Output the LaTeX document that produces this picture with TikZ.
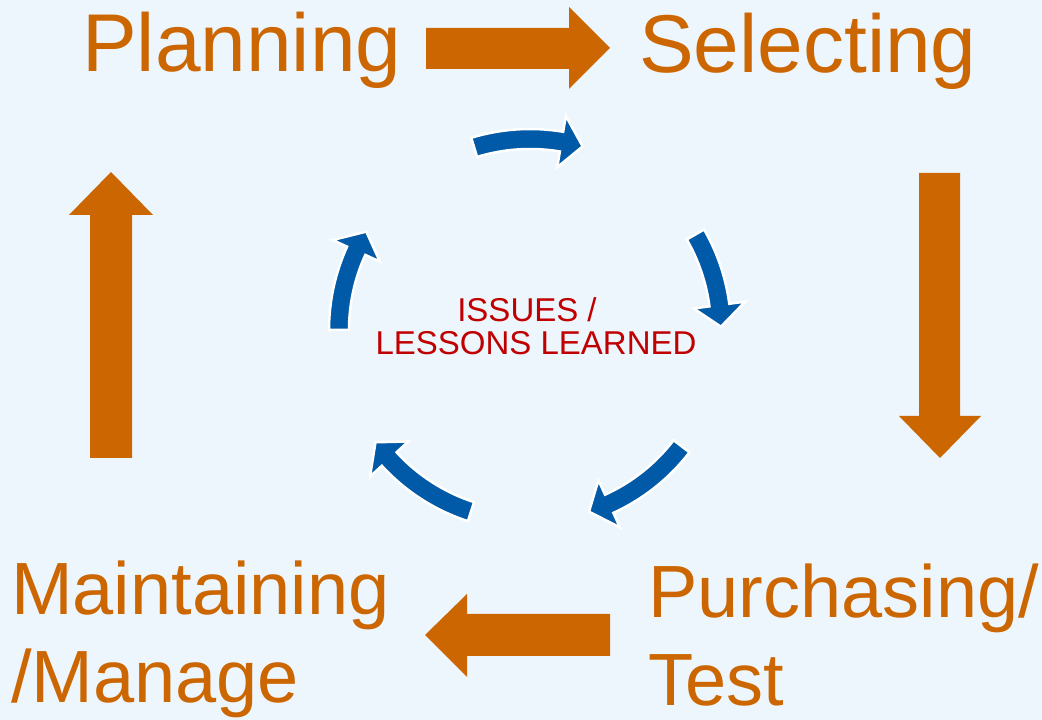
\documentclass[tikz,border=0pt]{standalone}
\usepackage{fontspec}
\setmainfont{Liberation Sans}
\definecolor{stepOrange}{RGB}{204,102,0}
\definecolor{cycleBlue}{RGB}{0,90,167}
\definecolor{issueRed}{RGB}{192,0,0}
\definecolor{bgBlue}{RGB}{237,245,253}
% one curved blue arrow of the inner cycle: #1 tail angle, #2 tip angle
\newcommand{\cycarrow}[2]{%
  \pgfmathsetmacro\hb{#2+6.5}
  \draw[cyclearrow] (#1:201) arc[start angle=#1, end angle=\hb, radius=201]
    -- (\hb:217) -- (#2:191) -- (\hb:165) -- (\hb:181)
    arc[start angle=\hb, end angle=#1, radius=181] -- cycle;}

\begin{document}
\begin{tikzpicture}[x=1pt, y=1pt,
    steptext/.style={text=stepOrange, inner sep=0pt, anchor=base west},
    bigstep/.style={steptext, font=\fontsize{82}{88}\selectfont},
    smallstep/.style={steptext, align=left, font=\fontsize{74}{88}\selectfont},
    blockarrow/.style={fill=stepOrange},
    cyclearrow/.style={fill=cycleBlue, draw=white, line width=2.5pt, line join=miter}]
    % Fondo
    \fill[bgBlue] (0,0) rectangle (1042,720);
    \useasboundingbox (0,0) rectangle (1042,720);

    % Etapas
    \node[bigstep] (plan) at (82,648) {Planning};
    \node[bigstep] (sel) at (639,647) {Selecting};
    \node[smallstep] (pur) at (648,14) {Purchasing/\\Test};
    \node[smallstep] (main) at (11,17) {Maintaining\\/Manage};

    % Flechas grandes
    \fill[blockarrow] (426,651) -- (569,651) -- (569,631) -- (610,672)
        -- (569,713) -- (569,692) -- (426,692) -- cycle;
    \fill[blockarrow] (919,547) -- (919,304) -- (899,304) -- (940,262)
        -- (981,304) -- (960,304) -- (960,547) -- cycle;
    \fill[blockarrow] (610,106) -- (467,106) -- (467,126) -- (425,85)
        -- (467,43) -- (467,64) -- (610,64) -- cycle;
    \fill[blockarrow] (90,262) -- (90,505) -- (69,505) -- (111,548)
        -- (153,505) -- (132,505) -- (132,262) -- cycle;

    % Ciclo interior
    \begin{scope}[shift={(530,390)}]
        \cycarrow{107}{74}
        \cycarrow{30}{1}
        \cycarrow{-37.5}{-72}
        \cycarrow{-108}{-144}
        \cycarrow{180}{149}
    \end{scope}
    \node[text=issueRed, align=center, font=\fontsize{33}{33}\selectfont]
        (issues) at (536,394) {ISSUES /\hspace*{18pt}\\LESSONS LEARNED};
\end{tikzpicture}
\end{document}
